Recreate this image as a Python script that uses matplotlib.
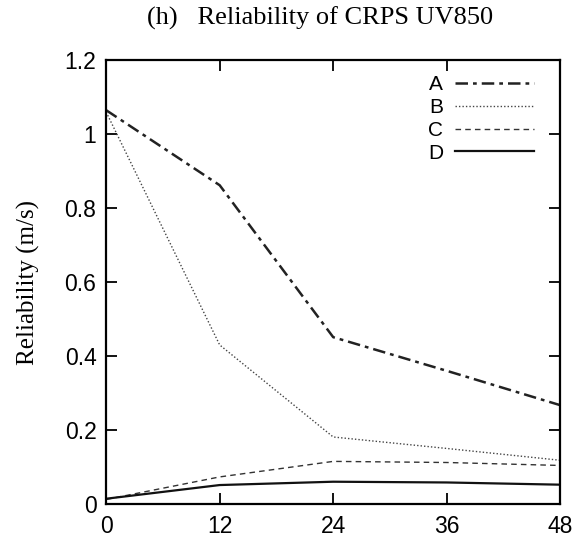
import matplotlib.pyplot as plt

hours = [0, 12, 24, 36, 48]
rel_a = [1.065, 0.862, 0.451, 0.36, 0.267]
rel_b = [1.06, 0.43, 0.181, 0.15, 0.118]
rel_c = [0.012, 0.073, 0.115, 0.112, 0.104]
rel_d = [0.014, 0.051, 0.06, 0.058, 0.052]
labels = ["A", "B", "C", "D"]

fig = plt.figure(figsize=(5.8, 5.43), dpi=100)
ax = fig.add_axes([0.183, 0.072, 0.783, 0.817])

ax.plot(hours, rel_a, color="#222222", lw=1.8, linestyle=(0, (5, 2, 1.5, 2)), label=labels[0])
ax.plot(hours, rel_b, color="#444444", lw=1.0, linestyle=(0, (1, 1.5)), label=labels[1])
ax.plot(hours, rel_c, color="#333333", lw=1.0, linestyle=(0, (4, 3)), label=labels[2])
ax.plot(hours, rel_d, color="#111111", lw=1.6, linestyle="-", label=labels[3])

ax.set_xlim(0, 48)
ax.set_ylim(0, 1.2)
ax.set_xticks(hours)
ax.set_yticks([0, 0.2, 0.4, 0.6, 0.8, 1.0, 1.2])
ax.set_yticklabels(["0", "0.2", "0.4", "0.6", "0.8", "1", "1.2"])
ax.tick_params(direction="in", length=8, width=1.3, top=True, right=True,
               labelsize=16.5, pad=7)
ax.tick_params(axis="x", pad=8)
for lab in ax.get_xticklabels() + ax.get_yticklabels():
    lab.set_family("Liberation Sans")
for s in ax.spines.values():
    s.set_linewidth(1.6)

ax.set_ylabel("Reliability (m/s)", family="Liberation Serif", fontsize=18, labelpad=18)
fig.text(0.552, 0.966, "(h)   Reliability of CRPS UV850", family="Liberation Serif",
         fontsize=19, ha="center", va="center")

leg = ax.legend(loc="upper right", markerfirst=False, frameon=False,
                handlelength=3.75, handletextpad=0.6, labelspacing=0.18,
                borderaxespad=0.0, borderpad=0.3, bbox_to_anchor=(0.955, 0.98),
                prop={"family": "Liberation Sans", "size": 15})

fig.savefig("out.png", dpi=100)
